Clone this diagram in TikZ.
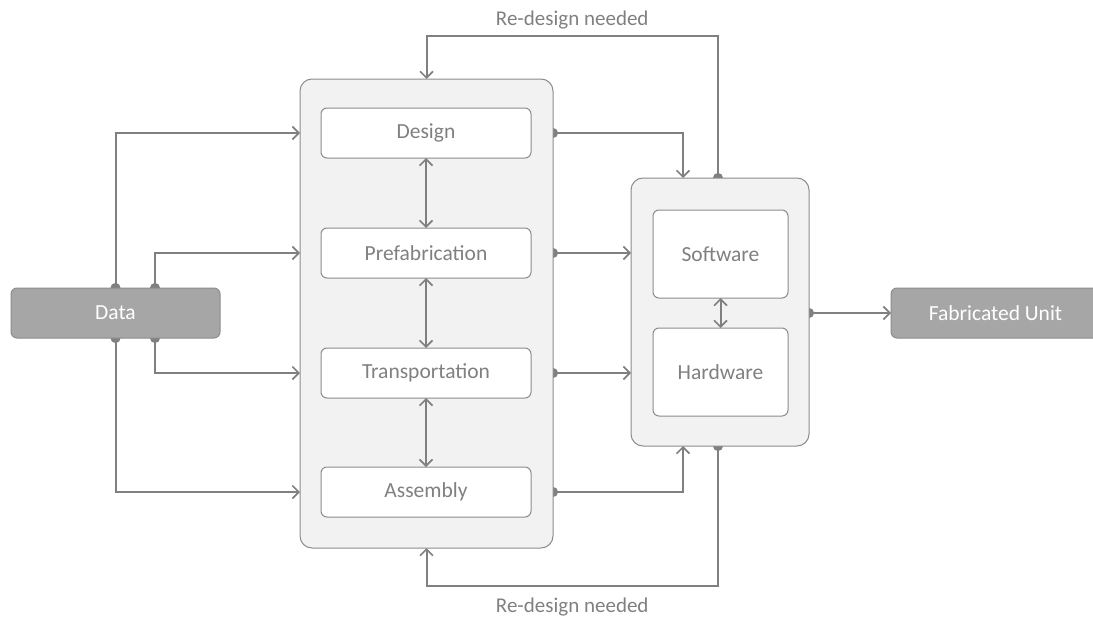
\documentclass[tikz,border=0pt]{standalone}
\usepackage{fontspec}
\setmainfont{Carlito}
\usetikzlibrary{arrows.meta,calc}
\pgfdeclarelayer{bg}
\pgfsetlayers{bg,main}
\definecolor{ln}{HTML}{808080}
\definecolor{bd}{HTML}{8C8C8C}
\definecolor{dk}{HTML}{A6A6A6}
\definecolor{lt}{HTML}{F2F2F2}
\tikzset{
  base/.style={rectangle, rounded corners=6pt, outer sep=0pt, inner sep=0pt, draw=bd, line width=1pt, font=\fontsize{21.5}{24}\selectfont},
  dbox/.style={base, fill=dk, text=white, minimum width=209pt, minimum height=50pt},
  cont/.style={base, fill=lt, rounded corners=12pt},
  ibox/.style={base, fill=white, text=ln, minimum width=210pt, minimum height=50pt},
  sbox/.style={base, fill=white, text=ln, minimum width=135pt, minimum height=88pt},
  conn/.style={draw=ln, line width=2pt, shorten <=-5pt, {Circle[length=10pt,width=10pt]}-{Straight Barb[length=6.5pt,width=13pt,line width=1.6pt]}},
  dbl/.style={draw=ln, line width=2pt, {Straight Barb[length=6.5pt,width=13pt,line width=1.6pt]}-{Straight Barb[length=6.5pt,width=13pt,line width=1.6pt]}},
  lbl/.style={text=ln, font=\fontsize{21}{24}\selectfont},
}
\begin{document}
\begin{tikzpicture}[x=1pt,y=-1pt]
\useasboundingbox (0,0) rectangle (1093,621);
\begin{scope}
\clip (0,0) rectangle (1093,621);
\node[dbox] (data) at (115.5,313) {Data};
\node[dbox] (fab) at (995.5,313) {Fabricated Unit};
\node[cont, minimum width=253pt, minimum height=469pt] (big) at (426.5,313.5) {};
\node[ibox] (design) at (426,133) {Design};
\node[ibox] (prefab) at (426,253) {Prefabrication};
\node[ibox] (transp) at (426,373) {Transportation};
\node[ibox] (assem) at (426,492) {Assembly};
\node[cont, minimum width=178pt, minimum height=268pt] (rc) at (720,312) {};
\node[sbox] (sw) at (720.5,254) {Software};
\node[sbox] (hw) at (720.5,372) {Hardware};
\coordinate (topy) at (0,36);
\coordinate (boty) at (0,586);
\draw[dbl] (design.south) -- (prefab.north);
\draw[dbl] (prefab.south) -- (transp.north);
\draw[dbl] (transp.south) -- (assem.north);
\draw[dbl] (sw.south) -- (hw.north);
\begin{pgfonlayer}{bg}
\draw[conn] (data.north) |- (big.west |- design);
\draw[conn] ([xshift=39.5pt]data.north) |- (big.west |- prefab);
\draw[conn] ([xshift=39.5pt]data.south) |- (big.west |- transp);
\draw[conn] (data.south) |- (big.west |- assem);
\draw[conn] (big.east |- design) -| ([xshift=-37pt]rc.north);
\draw[conn] (big.east |- prefab) -- (rc.west |- prefab);
\draw[conn] (big.east |- transp) -- (rc.west |- transp);
\draw[conn] (big.east |- assem) -| ([xshift=-37pt]rc.south);
\draw[conn] ([xshift=-2pt]rc.north) -- ([xshift=-2pt]rc.north |- topy) -| node[lbl, pos=0.25, above=3pt] {Re-design needed} (big.north);
\draw[conn] ([xshift=-2pt]rc.south) -- ([xshift=-2pt]rc.south |- boty) -| node[lbl, pos=0.25, below=8pt] {Re-design needed} (big.south);
\draw[conn] (rc.east |- fab) -- (fab.west);
\end{pgfonlayer}
\end{scope}
\end{tikzpicture}
\end{document}
